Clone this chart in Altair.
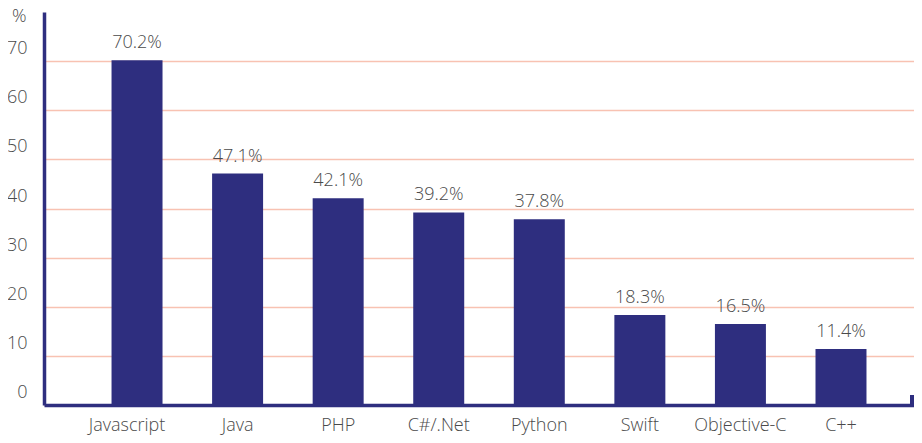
import altair as alt
import pandas as pd

languages = ["Javascript", "Java", "PHP", "C#/.Net", "Python", "Swift", "Objective-C", "C++"]
shares = [70.2, 47.1, 42.1, 39.2, 37.8, 18.3, 16.5, 11.4]
y_ticks = [0, 10, 20, 30, 40, 50, 60, 70]

df = pd.DataFrame({"lang": languages, "share": shares})
df["label"] = [f"{v:.1f}%" for v in shares]

BAR = "#2e2e7f"
GRID = "#f8c2b2"
TXT = "#4a4a4a"
FONT = "Open Sans"

x_enc = alt.X(
    "lang:N",
    sort=languages,
    scale=alt.Scale(paddingInner=0.493, paddingOuter=0.572, align=0.587),
    axis=alt.Axis(
        title=None,
        labelAngle=0,
        labelFont=FONT,
        labelFontSize=18,
        labelFontWeight=300,
        labelColor=TXT,
        labelPadding=11,
        ticks=False,
        domainColor=BAR,
        domainWidth=3.5,
        grid=False,
        labelOffset={"condition": {"test": "datum.value == 'Javascript'", "value": -10}, "value": 0},
    ),
)

y_enc = alt.Y(
    "share:Q",
    scale=alt.Scale(domain=[0, 80], nice=False, zero=True),
    axis=alt.Axis(
        values=y_ticks,
        title="%",
        titleAngle=0,
        titleAlign="right",
        titleBaseline="middle",
        titleX=-18,
        titleY=4,
        titleFont=FONT,
        titleFontSize=18,
        titleFontWeight=300,
        titleColor=TXT,
        labelFont=FONT,
        labelFontSize=18,
        labelFontWeight=300,
        labelColor=TXT,
        labelAlign="right",
        labelBaseline="middle",
        labelOffset=-12.5,
        labelPadding=17,
        ticks=False,
        domainColor=BAR,
        domainWidth=3.5,
        grid=True,
        gridColor=GRID,
        gridWidth=1.5,
    ),
)

bars = alt.Chart(df).mark_bar(color=BAR).encode(x=x_enc, y=y_enc)

labels = alt.Chart(df).mark_text(
    baseline="alphabetic", dy=-12, font=FONT, fontSize=18, fontWeight=300, color=TXT
).encode(
    x=alt.X("lang:N", sort=languages),
    y=alt.Y("share:Q"),
    text="label:N",
)

end_tick = alt.Chart(df).mark_rule(color=BAR, strokeWidth=3.5).encode(
    x=alt.value(868), y=alt.value(383), y2=alt.value(393)
)

chart = (
    alt.layer(bars, labels, end_tick)
    .properties(
        width=870,
        height=393,
        background="white",
        autosize=alt.AutoSizeParams(type="none"),
        padding={"left": 36, "top": 4, "right": 0, "bottom": 30},
    )
    .configure_view(strokeWidth=0)
)

chart.save("out.html", embed_options={"renderer": "svg", "actions": False})
